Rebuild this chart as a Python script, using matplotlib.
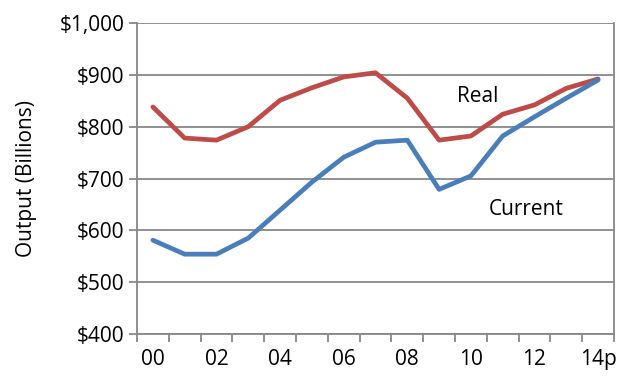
import matplotlib.pyplot as plt

plt.rcParams['font.family'] = ['Open Sans', 'DejaVu Sans']

years = ['00', '01', '02', '03', '04', '05', '06', '07', '08', '09', '10', '11', '12', '13', '14p']
real = [838, 778, 774, 800, 851, 875, 896, 904, 855, 774, 782, 824, 842, 874, 892]
current = [581, 554, 554, 585, 639, 693, 741, 770, 774, 679, 705, 782, 819, 855, 890]
yticks = [400, 500, 600, 700, 800, 900, 1000]

grey = '#878787'
fs = 15

fig = plt.figure(figsize=(6.21, 3.79), dpi=100)
ax = fig.add_axes([137 / 621, 45 / 379, 477 / 621, 311 / 379])

x = list(range(len(years)))
ax.plot(x, real, color='#be4b48', linewidth=3.4, solid_capstyle='round', solid_joinstyle='round')
ax.plot(x, current, color='#4a7ebb', linewidth=3.4, solid_capstyle='round', solid_joinstyle='round')

ax.text(10.2, 859, 'Real', fontsize=fs, ha='center', va='center')
ax.text(11.75, 641, 'Current', fontsize=fs, ha='center', va='center')

ax.set_xlim(-0.5, len(years) - 0.5)
ax.set_ylim(400, 1000)
ax.set_yticks(yticks)
ax.set_yticklabels(['$' + format(v, ',') for v in yticks], fontsize=fs)
ax.set_xticks(x[::2])
ax.set_xticklabels(years[::2], fontsize=fs)
ax.set_xticks([i - 0.5 for i in range(len(years) + 1)], minor=True)
ax.tick_params(axis='x', which='major', length=0, pad=11)
ax.tick_params(axis='x', which='minor', length=6, color=grey, width=1.3)
ax.tick_params(axis='y', length=6, color=grey, width=1.3, pad=3)

ax.grid(axis='y', color=grey, linewidth=1.3)
ax.set_axisbelow(True)
for side in ['left', 'right', 'bottom']:
    ax.spines[side].set_color(grey)
    ax.spines[side].set_linewidth(1.3)
ax.spines['top'].set_visible(False)

ax.set_ylabel('Output (Billions)', fontsize=fs, labelpad=16)

fig.savefig('out.png', dpi=100)
